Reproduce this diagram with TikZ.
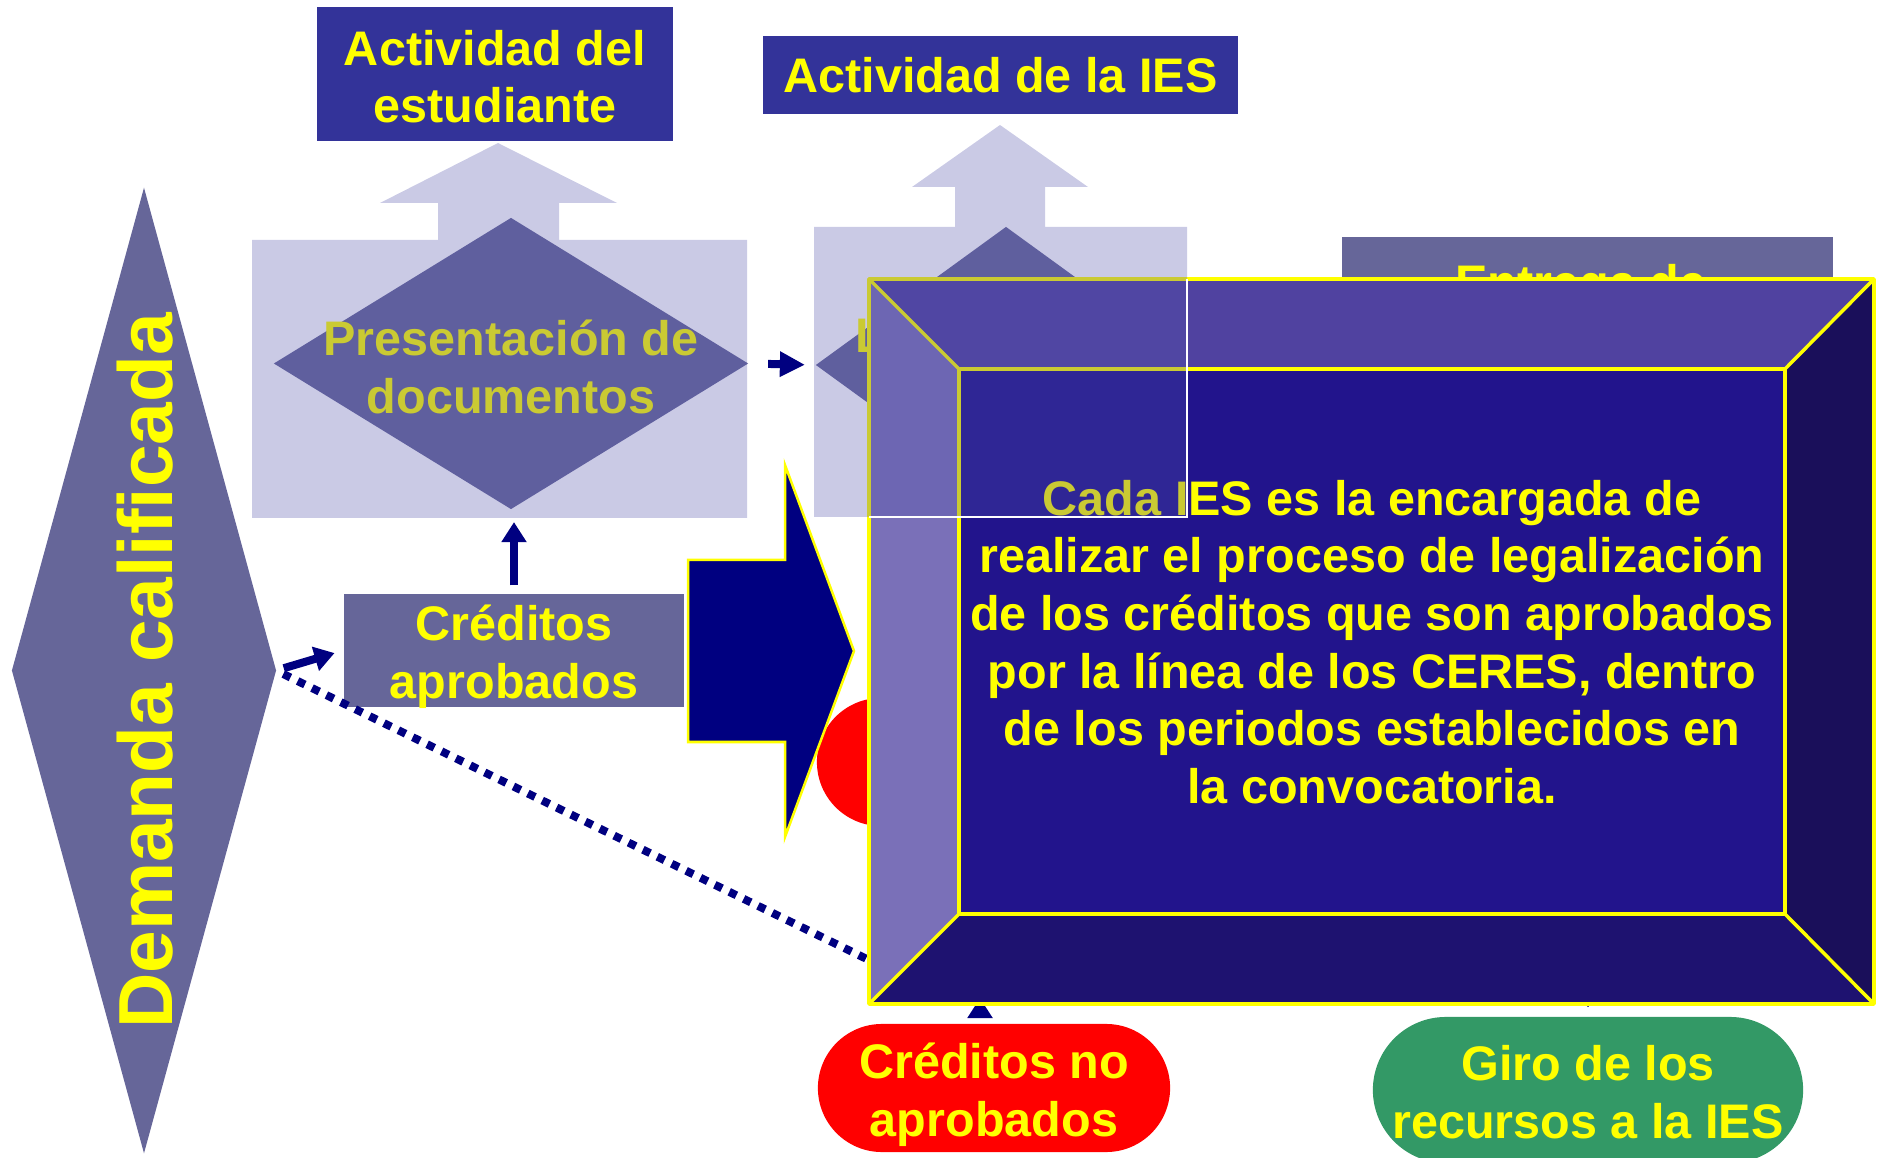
\documentclass[tikz,border=0pt]{standalone}
\usepackage{fontspec}
\setmainfont{Liberation Sans}
\usetikzlibrary{positioning}
\usetikzlibrary{shapes.geometric}
\usetikzlibrary{arrows.meta}

\definecolor{titleblue}{HTML}{333399}
\definecolor{slate}{HTML}{666699}
\definecolor{navy}{HTML}{000080}
\definecolor{lblyellow}{HTML}{FFFF00}
\definecolor{nored}{HTML}{FF0000}
\definecolor{girogreen}{HTML}{339966}
\definecolor{patblue}{HTML}{5050AA}
\definecolor{bevtop}{HTML}{5042A0}
\definecolor{bevleft}{HTML}{7A70B8}
\definecolor{bevright}{HTML}{1A0F5A}
\definecolor{bevbot}{HTML}{1E1270}
\definecolor{bevface}{HTML}{22148C}

\tikzset{
  lbl/.style={text=lblyellow, font=\bfseries\fontsize{13.8}{16.4}\selectfont, align=center, inner sep=0pt},
  titlebox/.style={fill=titleblue, inner sep=0pt},
  slatebox/.style={fill=slate, inner sep=0pt},
  dia/.style={diamond, fill=slate, inner sep=0pt, outer sep=0pt},
  pill/.style={rounded corners=#1, inner sep=0pt},
  navyarrow/.style={draw=navy, line width=0.08cm, -{Triangle[length=0.2cm, width=0.24cm]}},
  dotline/.style={draw=navy, line width=0.08cm, dash pattern=on 0.08cm off 0.08cm},
  patfill/.style={fill=patblue, fill opacity=0.3},
  bevel/.style={draw=lblyellow, line width=0.035cm, line join=round}
}

\begin{document}
\begin{tikzpicture}[x=0.01cm, y=-0.01cm]
    \useasboundingbox (0,0) rectangle (1878,1158);

    % titulos
    \node[titlebox, minimum width=3.56cm, minimum height=1.34cm] (actest) at (495,74) {};
    \node[lbl] (actesttxt) at ([yshift=-0.025cm]actest.center) {Actividad del\\estudiante};
    \node[titlebox, lbl, minimum width=4.75cm, minimum height=0.78cm] (actIES) at (1000.5,75) {Actividad de la IES};

    % demanda
    \node[dia, minimum width=2.64cm, minimum height=9.65cm] (dem) at (144,670.5) {};
    \node[lbl, font=\bfseries\fontsize{21.8}{26}\selectfont, rotate=90] (demtxt) at (145,671) {Demanda calificada};

    % rombos de proceso
    \node[dia, minimum width=4.74cm, minimum height=2.91cm] (pres) at (511,363.5) {};
    \node[lbl] (prestxt) at ([yshift=-0.035cm]pres.center) {Presentación de\\documentos};
    \node[dia, minimum width=3.80cm, minimum height=2.76cm] (legal) at (1006,365) {};
    \node[lbl, anchor=base west] (legaltxt) at (855,353) {Legalización};

    \node[slatebox, minimum width=4.91cm, minimum height=2cm] (entrega) at (1587.5,337) {};
    \node[lbl, anchor=base] (entregatxt) at (1581,300) {Entrega de};

    \node[slatebox, minimum width=3.40cm, minimum height=1.13cm] (aprob) at (514,650.5) {};
    \node[lbl] (aprobtxt) at ([yshift=-0.065cm]aprob.center) {Créditos\\aprobados};
    \node[pill=0.64cm, fill=nored, minimum width=2.83cm, minimum height=1.28cm] (rechazo) at (958.5,762) {};

    % flecha grande
    \filldraw[fill=navy, draw=lblyellow, line width=0.025cm] (688,560) -- (785,560) -- (785,465) -- (854,651)
        -- (785,837) -- (785,742) -- (688,742) -- cycle;

    % conectores
    \draw[navyarrow, shorten <=0.08cm, shorten >=0.09cm] (dem.east) -- (aprob.west);
    \coordinate (dotend) at (920,985);
    \draw[dotline, shorten <=0.08cm] (dem.east) -- (dotend);
    \draw[navyarrow, shorten <=0.08cm, shorten >=0.13cm] (aprob.north) -- (aprob.north |- pres.south);
    \draw[navyarrow, -{Triangle[length=0.25cm, width=0.24cm]}, shorten <=0.2cm, shorten >=0.11cm] (pres.east) -- (legal.west);

    % resultados
    \node[pill=0.64cm, fill=nored, minimum width=3.52cm, minimum height=1.28cm] (noaprob) at (994,1088) {};
    \node[lbl] (noaprobtxt) at ([yshift=-0.065cm]noaprob.center) {Créditos no\\aprobados};
    \node[pill=0.73cm, fill=girogreen, minimum width=4.30cm, minimum height=1.46cm] (giro) at (1588,1090) {};
    \node[lbl] (girotxt) at ([yshift=-0.02cm]giro.center) {Giro de los\\recursos a la IES};

    \coordinate (upin) at (980,998);
    \draw[navyarrow, shorten <=0.07cm] (upin |- noaprob.north) -- (upin);
    \coordinate (giroin) at (1588,950);
    \draw[navy, line width=0.02cm, -{Triangle[length=0.06cm, width=0.09cm]}, shorten >=0.09cm] (giroin) -- (giro.north);

    % recuadro superpuesto
    \fill[bevface] (959,369) rectangle (1785,914);
    \fill[bevtop] (869,279) -- (1874,279) -- (1785,369) -- (959,369) -- cycle;
    \fill[bevleft] (869,279) -- (959,369) -- (959,914) -- (869,1004) -- cycle;
    \fill[bevright] (1874,279) -- (1874,1004) -- (1785,914) -- (1785,369) -- cycle;
    \fill[bevbot] (869,1004) -- (959,914) -- (1785,914) -- (1874,1004) -- cycle;
    \draw[bevel] (869,279) rectangle (1874,1004);
    \draw[bevel] (959,369) rectangle (1785,914);
    \draw[bevel] (869,279) -- (959,369) (1874,279) -- (1785,369) (1874,1004) -- (1785,914) (869,1004) -- (959,914);
    \node[lbl] (nota) at (1372,642) {Cada IES es la encargada de\\realizar el proceso de legalización\\de los créditos que son aprobados\\por la línea de los CERES, dentro\\de los periodos establecidos en\\la convocatoria.};

    % tramas
    \fill[patfill] (252,518) -- (252,240) -- (438,240) -- (438,203) -- (380,203) -- (498,143) -- (617,203)
        -- (559,203) -- (559,240) -- (747,240) -- (747,518) -- cycle;
    \fill[patfill] (814,517) -- (814,227) -- (955,227) -- (955,187) -- (912,187) -- (1000,125) -- (1088,187)
        -- (1045,187) -- (1045,227) -- (1187,227) -- (1187,517) -- cycle;
    \draw[white, line width=0.015cm] (1187,279) -- (1187,517) -- (869,517);
\end{tikzpicture}
\end{document}
